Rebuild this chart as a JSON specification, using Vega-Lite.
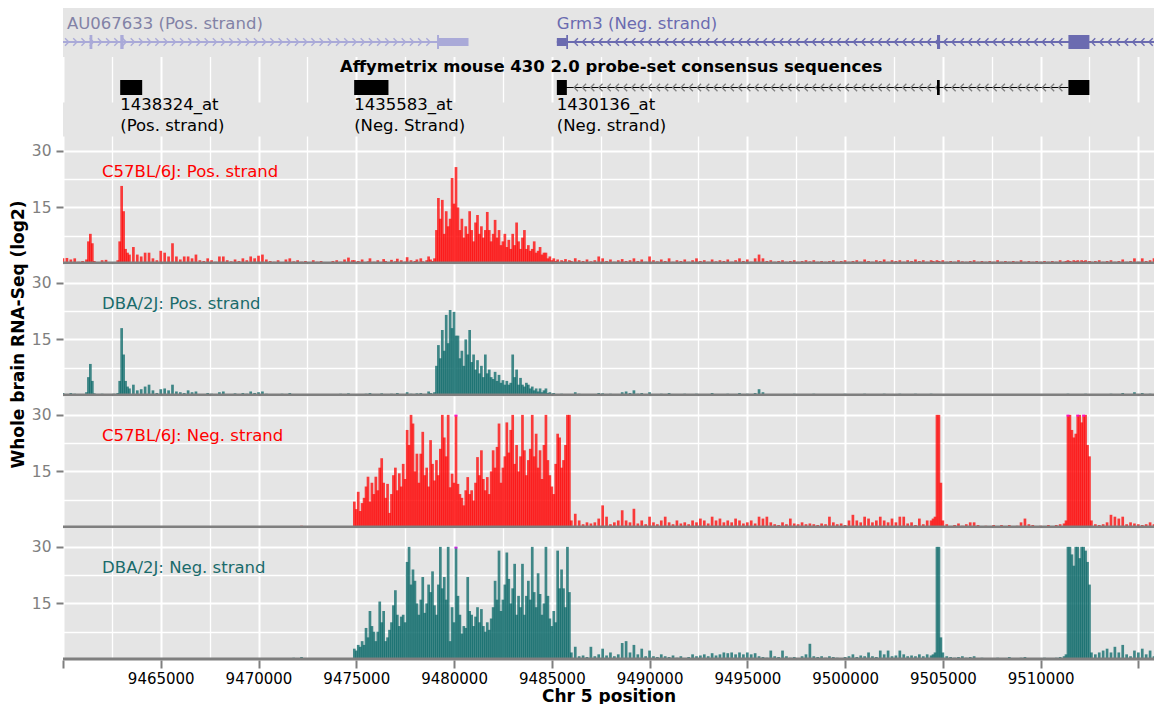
{
  "$schema": "https://vega.github.io/schema/vega-lite/v6.json",
  "padding": {"left": 9, "top": 8, "right": 0, "bottom": 0},
  "background": "white",
  "spacing": 0,
  "bounds": "flush",
  "resolve": {"scale": {"x": "independent", "y": "independent"}},
  "config": {
    "font": "DejaVu Sans",
    "view": {"fill": "#e5e5e5", "stroke": null},
    "axis": {"gridColor": "white", "labelFont": "DejaVu Sans", "titleFont": "DejaVu Sans"}
  },
  "datasets": {
    "cov": [
      {"x":9460000,"a":1.5,"b":0.8},{"x":9460200,"a":1.6,"b":0.5},{"x":9460400,"a":1.2,"b":0.8},{"x":9460600,"a":1.5,"b":0.6},
      {"x":9460800,"a":0.6},{"x":9461000,"a":0.8,"b":0.5},{"x":9461200,"a":1.2,"b":1},{"x":9461300,"a":6,"b":5},
      {"x":9461400,"a":8,"b":8.5},{"x":9461500,"a":5.5,"b":4},{"x":9461600,"a":0.8,"b":0.7},{"x":9461800,"a":0.5},
      {"x":9462000,"a":1,"b":0.6},{"x":9462200,"a":1.1,"b":0.5},{"x":9462400,"a":0.5},{"x":9462600,"b":0.6},
      {"x":9462800,"a":1,"b":0.8},{"x":9462900,"a":6,"b":4},{"x":9463000,"a":20.7,"b":18},{"x":9463100,"a":14,"b":11},
      {"x":9463200,"a":4,"b":4},{"x":9463300,"a":3,"b":2.5},{"x":9463400,"a":2.5,"b":2},{"x":9463600,"a":4.5,"b":3},
      {"x":9463800,"a":2.5,"b":1.5},{"x":9464000,"a":2,"b":1.8},{"x":9464200,"a":3,"b":2.5},{"x":9464400,"a":3,"b":3},
      {"x":9464600,"a":1.5,"b":1.5},{"x":9464800,"a":1,"b":0.8},{"x":9465000,"a":3.5,"b":1.8},{"x":9465200,"a":3,"b":2},
      {"x":9465400,"a":2,"b":1.5},{"x":9465600,"a":5.5,"b":3},{"x":9465800,"a":2,"b":1.2},{"x":9466000,"a":1.2,"b":1},
      {"x":9466200,"a":2,"b":0.8},{"x":9466400,"a":2,"b":1.5},{"x":9466600,"a":1.5,"b":1},{"x":9466800,"a":2.5,"b":1.2},
      {"x":9467000,"a":1,"b":0.5},{"x":9467200,"a":0.8},{"x":9467400,"a":1.5,"b":0.8},{"x":9467600,"a":1,"b":0.6},
      {"x":9467800,"a":0.6},{"x":9468000,"a":2,"b":1},{"x":9468200,"a":2,"b":1.2},{"x":9468400,"a":1,"c":0.4},
      {"x":9468600,"a":0.7,"b":0.5},{"x":9468800,"a":1.2,"b":0.7},{"x":9469000,"a":0.8},{"x":9469200,"a":1.5,"b":0.8},
      {"x":9469400,"a":1,"b":0.6},{"x":9469600,"a":2,"b":1.2},{"x":9469800,"a":1.5,"b":0.8},{"x":9470000,"a":2.2,"b":1,"c":0.5},
      {"x":9470200,"a":2.5,"b":1.2},{"x":9470400,"a":1.2,"b":0.6},{"x":9470600,"a":0.8},{"x":9470800,"a":0.6,"b":0.5},
      {"x":9471000,"a":1,"d":0.4},{"x":9471200,"b":0.6},{"x":9471400,"a":1.2,"b":0.5},{"x":9471600,"a":1.5,"b":0.8},
      {"x":9471800,"a":0.7,"d":0.6},{"x":9472000,"a":1,"b":0.5,"c":0.5},{"x":9472200,"a":0.6,"c":0.6,"d":0.8},{"x":9472400,"a":0.8},
      {"x":9472600,"b":0.4},{"x":9472800,"a":1},{"x":9473000,"a":0.6,"b":0.5},{"x":9473200,"a":0.8},
      {"x":9473400,"b":0.4},{"x":9473600,"a":0.5},{"x":9473800,"a":0.8,"b":0.5},{"x":9474000,"a":1},
      {"x":9474200,"a":0.6,"b":0.6},{"x":9474400,"a":1.2},{"x":9474600,"a":1.7,"b":0.7},{"x":9474800,"a":1,"c":0.5},
      {"x":9474900,"a":1,"c":7,"d":3},{"x":9475000,"c":5,"d":2.5},{"x":9475100,"a":0.8,"c":9.6,"d":4},{"x":9475200,"b":0.5,"c":4.5,"d":3.5},
      {"x":9475300,"a":1.2,"c":6.6,"d":5},{"x":9475400,"c":8,"d":4},{"x":9475500,"b":0.6,"c":11,"d":8.5},{"x":9475600,"a":0.7,"c":13.6,"d":6},
      {"x":9475700,"a":1.5,"b":0.8,"c":7,"d":13},{"x":9475800,"c":12,"d":9},{"x":9475900,"a":0.6,"c":9,"d":7.5},{"x":9476000,"b":0.5,"c":13.6,"d":5},
      {"x":9476100,"a":1,"c":10,"d":7.5},{"x":9476200,"c":16,"d":15.5},{"x":9476300,"b":0.7,"c":18.5,"d":10},{"x":9476400,"a":1.3,"c":12,"d":13},
      {"x":9476500,"a":0.8,"c":8,"d":5},{"x":9476600,"b":0.5,"c":11.7,"d":6},{"x":9476700,"c":4,"d":8},{"x":9476800,"a":1.1,"b":0.6,"c":9,"d":10},
      {"x":9476900,"c":14,"d":14.5},{"x":9477000,"a":0.7,"c":16,"d":18.5},{"x":9477100,"a":1.4,"b":0.8,"c":10,"d":12},{"x":9477200,"c":14.5,"d":9},
      {"x":9477300,"a":1,"c":11,"d":11.5},{"x":9477400,"b":0.5,"c":17,"d":12},{"x":9477500,"a":0.6,"c":13,"d":10},{"x":9477600,"a":1.8,"b":1,"c":26,"d":26},
      {"x":9477700,"c":22,"d":30},{"x":9477800,"a":1,"b":0.6,"c":30,"d":20},{"x":9477900,"c":27.7,"d":24},{"x":9478000,"a":0.8,"c":15,"d":21},
      {"x":9478100,"a":1.2,"b":0.7,"c":19.7,"d":15},{"x":9478200,"c":12,"d":12},{"x":9478300,"a":1.5,"b":0.8,"c":19.7,"d":16},{"x":9478400,"a":0.7,"c":25.5,"d":22},
      {"x":9478500,"b":0.5,"c":14,"d":12.5},{"x":9478600,"a":1,"c":16,"d":15},{"x":9478700,"a":2,"b":1.2,"c":11,"d":20},{"x":9478800,"a":1.2,"b":0.8,"c":23.3,"d":18},
      {"x":9478900,"a":0.8,"b":0.6,"c":17,"d":23.5},{"x":9479000,"a":1.5,"b":1,"c":12.6,"d":14.5},{"x":9479100,"a":9,"b":8,"c":18,"d":12},{"x":9479200,"a":17.5,"b":13.5,"c":14,"d":20},
      {"x":9479300,"a":12,"b":10,"c":21,"d":30},{"x":9479400,"a":17,"b":17.5,"c":30,"d":19},{"x":9479500,"a":8,"b":12,"c":24,"d":22},{"x":9479600,"a":14,"b":21.5,"c":19,"d":16},
      {"x":9479700,"a":10,"b":14,"c":30,"d":30},{"x":9479800,"a":12,"b":22.8,"c":10.8,"d":5},{"x":9479900,"a":22.8,"b":18,"c":14.4,"d":14},{"x":9480000,"a":16,"b":22.3,"c":12,"d":10},
      {"x":9480100,"a":25.7,"b":16,"c":30,"d":30,"sc":1,"sd":1},{"x":9480200,"a":15,"b":16,"c":11.7,"d":17},{"x":9480300,"a":9,"b":10,"c":9,"d":12},{"x":9480400,"a":12,"b":12,"c":8,"d":7},
      {"x":9480500,"a":7,"b":8,"c":6,"d":9},{"x":9480600,"a":10,"b":15,"c":10,"d":8.5},{"x":9480700,"a":8,"b":11,"c":13.5,"d":22},{"x":9480800,"a":14,"b":17.5,"c":9,"d":13},
      {"x":9480900,"a":9,"b":9,"c":10,"d":12},{"x":9481000,"a":6,"b":11,"c":7.3,"d":9},{"x":9481100,"a":11,"b":7,"c":12,"d":11.5},{"x":9481200,"a":13,"b":9.5,"c":18.8,"d":14},
      {"x":9481300,"a":8,"b":6,"c":14,"d":10},{"x":9481400,"a":10,"b":8,"c":20.6,"d":13.5},{"x":9481500,"a":7,"b":5,"c":13,"d":9},{"x":9481600,"a":9,"b":11,"c":10,"d":7.5},
      {"x":9481700,"a":13.8,"b":6,"c":13.5,"d":10},{"x":9481800,"a":9,"b":7,"c":9,"d":8},{"x":9481900,"a":6,"b":5,"c":15,"d":11},{"x":9482000,"a":8,"b":4.5,"c":20.6,"d":14},
      {"x":9482100,"a":11.7,"b":6.4,"c":16,"d":21},{"x":9482200,"a":7,"b":4,"c":21.5,"d":16},{"x":9482300,"a":9,"b":5.6,"c":27.7,"d":29},{"x":9482400,"a":5,"b":3.5,"c":12,"d":13},
      {"x":9482500,"a":6,"b":4.2,"c":16,"d":16},{"x":9482600,"a":8,"b":3,"c":19,"d":20},{"x":9482700,"a":4.5,"b":4,"c":28,"d":28.5},{"x":9482800,"a":6.4,"b":3,"c":20,"d":21.5},
      {"x":9482900,"a":4,"b":3.5,"c":26,"d":15},{"x":9483000,"a":8,"b":11,"c":30,"d":19},{"x":9483100,"a":5,"b":5,"c":17,"d":25.5},{"x":9483200,"a":11,"b":7,"c":22,"d":12},
      {"x":9483300,"a":6,"b":3,"c":15,"d":17},{"x":9483400,"a":4,"b":4.8,"c":19,"d":14},{"x":9483500,"a":7,"b":3,"c":30,"d":25.5},{"x":9483600,"a":9,"b":2.5,"c":20.6,"d":12},
      {"x":9483700,"a":4,"b":3.5,"c":14,"d":17},{"x":9483800,"a":5,"b":3,"c":18,"d":21},{"x":9483900,"a":3.5,"b":2,"c":21,"d":16},{"x":9484000,"a":4,"b":2.5,"c":30,"d":30},
      {"x":9484100,"a":6,"b":1.5,"c":19,"d":18},{"x":9484200,"a":3,"b":2,"c":25,"d":14},{"x":9484300,"a":3.5,"b":1.2,"c":16,"d":23},{"x":9484400,"a":4.5,"b":2,"c":20.6,"d":17.5},
      {"x":9484500,"a":2.5,"b":1,"c":13,"d":12},{"x":9484600,"a":3,"b":1.5,"c":22,"d":15},{"x":9484700,"a":3,"b":2,"c":30,"d":30},{"x":9484800,"a":1.5,"b":0.8,"c":18,"d":17},
      {"x":9484900,"a":2,"b":1,"c":14,"d":11},{"x":9485000,"a":1,"b":0.6,"c":11,"d":9},{"x":9485100,"a":1.5,"b":0.8,"c":9,"d":13},{"x":9485200,"a":0.8,"c":17,"d":10},
      {"x":9485300,"a":1.2,"b":0.5,"c":25,"d":29},{"x":9485400,"c":24,"d":19},{"x":9485500,"a":1,"b":0.6,"c":16,"d":24},{"x":9485600,"a":0.7,"c":18,"d":19},
      {"x":9485700,"a":1.3,"b":0.5,"c":22,"d":14},{"x":9485800,"c":30,"d":30},{"x":9485900,"a":1,"c":30,"d":18},{"x":9486000,"a":0.8,"b":0.5,"c":2,"d":2},
      {"x":9486200,"a":1.5,"b":1,"c":3.8,"d":3.5},{"x":9486400,"a":1,"b":0.6,"c":2,"d":1},{"x":9486600,"a":0.8,"c":1,"d":1.2},{"x":9486800,"a":1.2,"b":0.5,"c":1.5,"d":0.8},
      {"x":9487000,"a":0.7,"c":1.2,"d":3.5},{"x":9487200,"a":1,"b":0.5,"c":1.5,"d":1},{"x":9487400,"a":2,"b":0.8,"c":2.5,"d":1.5},{"x":9487600,"a":1.5,"b":0.7,"c":6,"d":3},
      {"x":9487800,"a":0.8,"c":3,"d":1.2},{"x":9488000,"a":1.2,"b":0.6,"c":1,"d":2},{"x":9488200,"a":0.6,"c":1.5,"d":1},{"x":9488400,"a":1,"b":0.5,"c":2,"d":1.5},
      {"x":9488600,"a":1.3,"b":1,"c":4.7,"d":4.5},{"x":9488800,"a":0.8,"b":1.2,"c":2,"d":5},{"x":9489000,"a":1,"b":0.8,"c":1.5,"d":2},{"x":9489200,"a":1.5,"b":1.5,"c":5.1,"d":4},
      {"x":9489400,"a":0.8,"b":0.6,"c":1.2,"d":1.5},{"x":9489600,"a":1.2,"b":0.8,"c":2,"d":3},{"x":9489800,"a":0.6,"c":1,"d":1},{"x":9490000,"a":2,"b":1,"c":3,"d":2.5},
      {"x":9490200,"a":1,"b":0.5,"c":1.5,"d":1},{"x":9490400,"a":0.7,"c":1,"d":0.8},{"x":9490600,"a":1.2,"b":0.6,"c":2,"d":1.5},{"x":9490800,"a":0.8,"c":3,"d":1},
      {"x":9491000,"a":1.5,"b":0.8,"c":1.5,"d":0.8},{"x":9491200,"a":0.6,"c":1,"d":1.2},{"x":9491400,"a":1,"b":0.5,"c":2,"d":0.6},{"x":9491600,"a":0.8,"c":1.2,"d":1},
      {"x":9491800,"a":1.2,"b":0.6,"c":1.5},{"x":9492000,"a":0.6,"c":1,"d":0.8},{"x":9492200,"a":1,"c":2,"d":1.5},{"x":9492400,"a":1.5,"b":0.6,"c":1.5,"d":1},
      {"x":9492600,"a":0.8,"c":2.5,"d":1.2},{"x":9492800,"a":1,"b":0.5,"c":2,"d":1.5},{"x":9493000,"a":0.6,"c":1.2,"d":1},{"x":9493200,"a":1.2,"b":0.8,"c":3,"d":1.8},
      {"x":9493400,"a":0.7,"c":2,"d":1.2},{"x":9493600,"a":1,"b":0.5,"c":2.5,"d":1.5},{"x":9493800,"a":0.8,"c":1.5,"d":2},{"x":9494000,"a":1.2,"b":0.6,"c":2,"d":1.8},
      {"x":9494200,"a":0.6,"c":1.5,"d":2},{"x":9494400,"a":1,"b":0.5,"c":2.5,"d":1.5},{"x":9494600,"a":1.5,"b":0.8,"c":2,"d":2},{"x":9494800,"a":0.8,"c":1.2,"d":1.5},
      {"x":9495000,"a":1.2,"b":0.6,"c":1.5,"d":2},{"x":9495200,"a":0.6,"c":2,"d":1.5},{"x":9495400,"a":1.5,"b":0.8,"c":1.2,"d":1.8},{"x":9495600,"a":2.5,"b":1.8,"c":3,"d":1},
      {"x":9495800,"a":1.5,"b":1,"c":2.5,"d":0.8},{"x":9496000,"a":0.8,"c":3,"d":0.6},{"x":9496200,"a":1,"b":0.5,"c":1.5,"d":2.5},{"x":9496400,"a":0.6,"c":1,"d":1},
      {"x":9496600,"a":0.8,"c":0.8,"d":0.8},{"x":9496800,"a":1,"b":0.5,"c":1.5,"d":2.5},{"x":9497000,"a":0.6,"c":1,"d":1},{"x":9497200,"a":0.8,"c":2.5,"d":0.6},
      {"x":9497400,"a":1,"b":0.6,"c":1.2,"d":0.8},{"x":9497600,"a":0.6,"c":1,"d":0.5},{"x":9497800,"a":0.8,"c":1.5,"d":1},{"x":9498000,"a":1,"b":0.5,"c":1,"d":1.5},
      {"x":9498200,"a":0.7,"c":1.2,"d":4.3},{"x":9498400,"a":1,"b":0.6,"c":1,"d":1},{"x":9498600,"a":0.6,"c":0.8,"d":0.8},{"x":9498800,"a":0.8,"c":1.2,"d":1},
      {"x":9499000,"a":0.6,"b":0.5,"c":1,"d":0.6},{"x":9499200,"a":0.8,"c":3,"d":1},{"x":9499400,"a":1,"b":0.5,"c":1.5,"d":0.8},{"x":9499600,"a":0.6,"c":1,"d":0.6},
      {"x":9499800,"a":0.8,"c":1.2,"d":0.5},{"x":9500000,"a":1,"b":0.6,"c":0.8,"d":0.8},{"x":9500200,"a":0.6,"c":2,"d":1},{"x":9500400,"a":0.8,"c":3.5,"d":1.5},
      {"x":9500600,"a":1,"b":0.5,"c":2,"d":0.8},{"x":9500800,"a":0.6,"c":1.5,"d":1.2},{"x":9501000,"a":1.2,"b":0.6,"c":3,"d":1},{"x":9501200,"a":0.8,"c":2.5,"d":2},
      {"x":9501400,"a":0.6,"c":1.5,"d":1},{"x":9501600,"a":1,"b":0.5,"c":2,"d":0.8},{"x":9501800,"a":0.8,"c":3,"d":2.5},{"x":9502000,"a":1.2,"b":0.6,"c":2,"d":1.5},
      {"x":9502200,"a":0.6,"c":1.5,"d":2.5},{"x":9502400,"a":1,"b":0.5,"c":2.5,"d":1},{"x":9502600,"a":0.8,"c":1.5,"d":1.2},{"x":9502800,"a":1,"b":0.6,"c":3,"d":2.5},
      {"x":9503000,"a":0.6,"c":3,"d":1.5},{"x":9503200,"a":1,"b":0.5,"c":1.2,"d":1},{"x":9503400,"a":0.8,"c":1.5,"d":1.2},{"x":9503600,"a":1.2,"b":0.6,"c":0.8,"d":1},
      {"x":9503800,"a":0.8,"c":2.5,"d":1.5},{"x":9504000,"a":1,"b":0.5,"c":1,"d":1},{"x":9504200,"a":0.6,"c":2,"d":1.5},{"x":9504400,"a":1,"b":0.6,"c":2,"d":1.2},
      {"x":9504500,"a":0.8,"c":2.5,"d":1.5},{"x":9504600,"a":0.6,"c":3,"d":2},{"x":9504700,"a":1,"b":0.5,"c":30,"d":30},{"x":9504800,"a":0.8,"c":30,"d":30},
      {"x":9504900,"a":0.6,"c":12,"d":6},{"x":9505000,"a":1,"b":0.5,"c":2,"d":2},{"x":9505200,"a":0.6,"c":1,"d":1},{"x":9505400,"a":0.8,"b":0.5,"c":0.5,"d":0.8},
      {"x":9505600,"a":0.6,"c":0.8,"d":0.6},{"x":9505800,"a":1,"c":1.2,"d":0.8},{"x":9506000,"a":0.7,"b":0.5,"c":0.6,"d":1},{"x":9506200,"a":0.6,"c":1,"d":0.6},
      {"x":9506400,"a":0.8,"c":1.5,"d":0.8},{"x":9506600,"a":1,"b":0.5,"c":1.5,"d":1},{"x":9506800,"a":0.6,"c":0.8,"d":0.5},{"x":9507000,"a":0.8,"c":0.5,"d":0.6},
      {"x":9507200,"a":0.6,"b":0.4,"c":0.6},{"x":9507400,"a":0.8,"c":0.5,"d":0.5},{"x":9507600,"a":0.6,"c":0.8},{"x":9507800,"a":1,"b":0.5,"c":0.5,"d":0.6},
      {"x":9508000,"a":0.6,"c":0.8,"d":0.5},{"x":9508200,"a":0.8,"c":0.5},{"x":9508400,"a":0.6,"b":0.5,"c":0.8,"d":0.8},{"x":9508600,"a":0.8,"c":0.5},
      {"x":9508800,"a":0.6,"c":0.6,"d":0.5},{"x":9509000,"a":1,"b":0.5,"c":1.5,"d":0.6},{"x":9509200,"a":0.6,"c":2.5,"d":0.8},{"x":9509400,"a":0.8,"c":1,"d":0.5},
      {"x":9509600,"a":0.6,"b":0.4,"c":0.8},{"x":9509800,"a":0.8,"c":0.5,"d":0.5},{"x":9510000,"a":0.6,"c":0.6},{"x":9510200,"a":0.8,"b":0.5,"c":0.5,"d":0.6},
      {"x":9510400,"a":0.6,"c":0.8},{"x":9510600,"a":0.8,"c":0.5,"d":0.5},{"x":9510800,"a":0.6,"b":0.5,"c":0.8,"d":0.6},{"x":9511000,"a":1,"c":1,"d":0.8},
      {"x":9511200,"a":0.6,"c":1.2,"d":1},{"x":9511300,"a":0.8,"c":2,"d":1.5},{"x":9511400,"a":1,"b":0.6,"c":30,"d":30,"sc":1},{"x":9511500,"a":0.8,"c":30,"d":30},
      {"x":9511600,"a":0.6,"c":26,"d":28},{"x":9511700,"a":1,"b":0.5,"c":24,"d":25},{"x":9511800,"a":0.8,"c":25,"d":30},{"x":9511900,"a":1,"c":30,"d":30,"sc":1},
      {"x":9512000,"a":0.6,"b":0.5,"c":30,"d":27},{"x":9512100,"a":1,"c":28,"d":30},{"x":9512200,"a":0.8,"c":30,"d":30,"sc":1},{"x":9512300,"a":1,"b":0.6,"c":30,"d":29},
      {"x":9512400,"a":0.6,"c":22,"d":26},{"x":9512500,"a":0.8,"c":19,"d":20},{"x":9512600,"a":0.6,"c":2,"d":2},{"x":9512800,"a":0.8,"b":0.5,"c":1,"d":1.5},
      {"x":9513000,"a":1,"c":0.8,"d":2},{"x":9513200,"a":0.6,"b":0.5,"c":1,"d":2.5},{"x":9513400,"a":0.8,"c":1.5,"d":3},{"x":9513600,"a":1,"b":0.6,"c":3.5,"d":2},
      {"x":9513800,"a":0.6,"c":3,"d":3.5},{"x":9514000,"a":0.8,"c":2.5,"d":2},{"x":9514200,"a":1.2,"b":0.8,"c":3,"d":4},{"x":9514400,"a":0.6,"c":1,"d":1.5},
      {"x":9514600,"a":0.8,"b":0.5,"c":1.5,"d":1},{"x":9514800,"a":1.5,"b":1,"c":1.2,"d":2.5},{"x":9515000,"a":0.6,"c":1,"d":2},{"x":9515200,"a":1.5,"b":0.8,"c":0.8,"d":3},
      {"x":9515400,"a":0.8,"c":1,"d":1.5},{"x":9515600,"a":1,"b":0.6,"c":1.5,"d":2.5},{"x":9515800,"a":1.5,"c":1,"d":1}
    ],
    "feat": [
      {"src":"AU067633","lane":"gene","k":"line","s":9460000,"e":9479200},
      {"src":"Grm3","lane":"gene","k":"line","s":9485258,"e":9515800},
      {"src":"probe","lane":"probe","k":"pline","s":9485700,"e":9511422},
      {"src":"AU067633","lane":"gene","k":"cds","s":9461360,"e":9461500},
      {"src":"AU067633","lane":"gene","k":"cds","s":9462930,"e":9463100},
      {"src":"AU067633","lane":"gene","k":"utr","s":9479200,"e":9480740},
      {"src":"AU067633","lane":"gene","k":"cds","s":9479130,"e":9479230},
      {"src":"Grm3","lane":"gene","k":"utr","s":9485258,"e":9485770},
      {"src":"Grm3","lane":"gene","k":"cds","s":9485740,"e":9485830},
      {"src":"Grm3","lane":"gene","k":"cds","s":9504700,"e":9504860},
      {"src":"Grm3","lane":"gene","k":"cds","s":9511422,"e":9512496},
      {"src":"probe","lane":"probe","k":"probe","s":9462925,"e":9464050},
      {"src":"probe","lane":"probe","k":"probe","s":9474892,"e":9476646},
      {"src":"probe","lane":"probe","k":"probe","s":9485258,"e":9485770},
      {"src":"probe","lane":"probe","k":"probe","s":9504700,"e":9504840},
      {"src":"probe","lane":"probe","k":"probe","s":9511422,"e":9512496}
    ],
    "chev": [
      {"p":9460200},{"p":9460620},{"p":9461040},{"p":9461460},{"p":9461880},{"p":9462300},{"p":9462720},{"p":9463140},{"p":9463560},{"p":9463980},
      {"p":9464400},{"p":9464820},{"p":9465240},{"p":9465660},{"p":9466080},{"p":9466500},{"p":9466920},{"p":9467340},{"p":9467760},{"p":9468180},
      {"p":9468600},{"p":9469020},{"p":9469440},{"p":9469860},{"p":9470280},{"p":9470700},{"p":9471120},{"p":9471540},{"p":9471960},{"p":9472380},
      {"p":9472800},{"p":9473220},{"p":9473640},{"p":9474060},{"p":9474480},{"p":9474900},{"p":9475320},{"p":9475740},{"p":9476160},{"p":9476580},
      {"p":9477000},{"p":9477420},{"p":9477840},{"p":9478260},{"p":9478680},
      {"p":9486240},{"p":9486660},{"p":9487080},{"p":9487500},{"p":9487920},{"p":9488340},{"p":9488760},{"p":9489180},{"p":9489600},{"p":9490020},
      {"p":9490440},{"p":9490860},{"p":9491280},{"p":9491700},{"p":9492120},{"p":9492540},{"p":9492960},{"p":9493380},{"p":9493800},{"p":9494220},
      {"p":9494640},{"p":9495060},{"p":9495480},{"p":9495900},{"p":9496320},{"p":9496740},{"p":9497160},{"p":9497580},{"p":9498000},{"p":9498420},
      {"p":9498840},{"p":9499260},{"p":9499680},{"p":9500100},{"p":9500520},{"p":9500940},{"p":9501360},{"p":9501780},{"p":9502200},{"p":9502620},
      {"p":9503040},{"p":9503460},{"p":9503880},{"p":9504300},{"p":9504720},{"p":9505140},{"p":9505560},{"p":9505980},{"p":9506400},{"p":9506820},
      {"p":9507240},{"p":9507660},{"p":9508080},{"p":9508500},{"p":9508920},{"p":9509340},{"p":9509760},{"p":9510180},{"p":9510600},{"p":9511020},
      {"p":9512700},{"p":9513120},{"p":9513540},{"p":9513960},{"p":9514380},{"p":9514800},{"p":9515220},{"p":9515640}
    ]
  },
  "vconcat": [
    {
      "width": 1091,
      "height": 128,
      "data": {"name": "feat"},
      "layer": [
        {
          "transform": [{"filter": "datum.k === 'line'"}],
          "mark": {"type": "rule", "strokeCap": "butt", "strokeWidth": 2, "clip": true},
          "encoding": {
            "x": {"field": "s", "type": "quantitative", "scale": {"domain": [9460000, 9515800], "nice": false, "zero": false, "padding": 0},
                  "axis": {"values": [9460000,9462500,9465000,9467500,9470000,9472500,9475000,9477500,9480000,9482500,9485000,9487500,9490000,9492500,9495000,9497500,9500000,9502500,9505000,9507500,9510000,9512500,9515000],
                           "labels": false, "ticks": false, "domain": false, "title": null,
                           "gridWidth": {"condition": {"test": "datum.value % 5000 === 0", "value": 2}, "value": 1.3}}},
            "x2": {"field": "e"},
            "y": {"field": "lane", "type": "nominal", "scale": {"type": "point", "domain": ["gene", "probe"], "range": [34, 79.5], "padding": 0}, "axis": null},
            "color": {"field": "src", "type": "nominal", "scale": {"domain": ["AU067633", "Grm3", "probe"], "range": ["#aaaad8", "#6b6bb0", "#000000"]}, "legend": null}
          }
        },
        {
          "transform": [{"filter": "datum.k === 'pline'"}],
          "mark": {"type": "rule", "strokeCap": "butt", "strokeWidth": 1.2, "clip": true},
          "encoding": {"x": {"field": "s", "type": "quantitative"}, "x2": {"field": "e"}, "y": {"field": "lane", "type": "nominal"}, "color": {"field": "src", "type": "nominal"}}
        },
        {
          "data": {"name": "chev"},
          "transform": [{"filter": "datum.p < 9479000"}],
          "mark": {"type": "point", "shape": "M-0.5,-1L0.5,0L-0.5,1", "filled": false, "size": 56, "strokeWidth": 1.4, "color": "#aaaad8", "opacity": 1, "clip": true},
          "encoding": {"x": {"field": "p", "type": "quantitative"}, "y": {"datum": "gene"}}
        },
        {
          "data": {"name": "chev"},
          "transform": [{"filter": "datum.p > 9485800"}],
          "mark": {"type": "point", "shape": "M0.5,-1L-0.5,0L0.5,1", "filled": false, "size": 56, "strokeWidth": 1.4, "color": "#6b6bb0", "opacity": 1, "clip": true},
          "encoding": {"x": {"field": "p", "type": "quantitative"}, "y": {"datum": "gene"}}
        },
        {
          "data": {"name": "chev"},
          "transform": [{"filter": "datum.p > 9485800 && datum.p < 9511400"}],
          "mark": {"type": "point", "shape": "M0.5,-1L-0.5,0L0.5,1", "filled": false, "size": 56, "strokeWidth": 1.3, "color": "#808080", "opacity": 1, "clip": true},
          "encoding": {"x": {"field": "p", "type": "quantitative"}, "y": {"datum": "probe"}}
        },
        {
          "transform": [{"filter": "datum.k === 'utr'"}],
          "mark": {"type": "rule", "strokeCap": "butt", "strokeWidth": 8, "clip": true},
          "encoding": {"x": {"field": "s", "type": "quantitative"}, "x2": {"field": "e"}, "y": {"field": "lane", "type": "nominal"}, "color": {"field": "src", "type": "nominal"}}
        },
        {
          "transform": [{"filter": "datum.k === 'cds'"}],
          "mark": {"type": "rule", "strokeCap": "butt", "strokeWidth": 14, "clip": true},
          "encoding": {"x": {"field": "s", "type": "quantitative"}, "x2": {"field": "e"}, "y": {"field": "lane", "type": "nominal"}, "color": {"field": "src", "type": "nominal"}}
        },
        {
          "transform": [{"filter": "datum.k === 'probe'"}],
          "mark": {"type": "rule", "strokeCap": "butt", "strokeWidth": 15, "clip": true},
          "encoding": {"x": {"field": "s", "type": "quantitative"}, "x2": {"field": "e"}, "y": {"field": "lane", "type": "nominal"}, "color": {"field": "src", "type": "nominal"}}
        },
        {
          "data": {"values": [{"t": "AU067633 (Pos. strand)", "p": 9460200}]},
          "mark": {"type": "text", "align": "left", "baseline": "alphabetic", "dy": -13, "fontSize": 16.5, "color": "#8282a6"},
          "encoding": {"x": {"field": "p", "type": "quantitative"}, "y": {"datum": "gene"}, "text": {"field": "t"}}
        },
        {
          "data": {"values": [{"t": "Grm3 (Neg. strand)", "p": 9485258}]},
          "mark": {"type": "text", "align": "left", "baseline": "alphabetic", "dy": -13, "fontSize": 16.5, "color": "#6b6bb0"},
          "encoding": {"x": {"field": "p", "type": "quantitative"}, "y": {"datum": "gene"}, "text": {"field": "t"}}
        },
        {
          "data": {"values": [{"t": "Affymetrix mouse 430 2.0 probe-set consensus sequences", "p": 9488035}]},
          "mark": {"type": "text", "align": "center", "baseline": "alphabetic", "dy": -15.5, "fontSize": 16.5, "fontWeight": "bold", "color": "#000000"},
          "encoding": {"x": {"field": "p", "type": "quantitative"}, "y": {"datum": "probe"}, "text": {"field": "t"}}
        },
        {
          "data": {"values": [
            {"t": "1438324_at\n(Pos. strand)", "p": 9462925},
            {"t": "1435583_at\n(Neg. Strand)", "p": 9474892},
            {"t": "1430136_at\n(Neg. strand)", "p": 9485258}
          ]},
          "mark": {"type": "text", "align": "left", "baseline": "top", "dy": 9.5, "lineBreak": "\n", "lineHeight": 21, "fontSize": 16.5, "color": "#000000"},
          "encoding": {"x": {"field": "p", "type": "quantitative"}, "y": {"datum": "probe"}, "text": {"field": "t"}}
        }
      ]
    },
    {
      "width": 1091,
      "height": 128,
      "layer": [
        {
          "data": {"name": "cov"},
          "mark": {"type": "bar", "size": 2.7, "opacity": 0.75, "color": "#ff0000", "clip": true},
          "encoding": {
            "x": {"field": "x", "type": "quantitative", "scale": {"domain": [9460000, 9515800], "nice": false, "zero": false, "padding": 0},
                  "axis": {"values": [9460000,9462500,9465000,9467500,9470000,9472500,9475000,9477500,9480000,9482500,9485000,9487500,9490000,9492500,9495000,9497500,9500000,9502500,9505000,9507500,9510000,9512500,9515000],
                           "labels": false, "ticks": false, "domain": false, "title": null,
                           "gridWidth": {"condition": {"test": "datum.value % 5000 === 0", "value": 2}, "value": 1.3}}},
            "y": {"field": "a", "type": "quantitative", "scale": {"domain": [0, 33.94], "nice": false},
                  "axis": {"values": [7.5, 15, 22.5, 30], "labelExpr": "datum.value % 15 === 0 ? datum.label : ''", "title": null, "domain": false,
                           "tickColor": "#7f7f7f", "tickSize": 7, "tickWidth": 2, "tickOpacity": {"condition": {"test": "datum.value % 15 === 0", "value": 1}, "value": 0},
                           "labelColor": "#7f7f7f", "labelFontSize": 15.5, "labelPadding": 5,
                           "gridWidth": {"condition": {"test": "datum.value % 15 === 0", "value": 2}, "value": 1.3}}}
          }
        },
        {
          "data": {"values": [{}]},
          "mark": {"type": "rule", "color": "#7f7f7f", "strokeWidth": 3, "yOffset": -1},
          "encoding": {"y": {"datum": 0}}
        },
        {
          "data": {"values": [{"t": "C57BL/6J: Pos. strand"}]},
          "mark": {"type": "text", "align": "left", "baseline": "alphabetic", "fontSize": 16.5, "color": "#ff0000"},
          "encoding": {"x": {"datum": 9462000}, "y": {"datum": 23}, "text": {"field": "t"}}
        }
      ]
    },
    {
      "width": 1091,
      "height": 132,
      "layer": [
        {
          "data": {"name": "cov"},
          "mark": {"type": "bar", "size": 2.7, "opacity": 0.75, "color": "#066666", "clip": true},
          "encoding": {
            "x": {"field": "x", "type": "quantitative", "scale": {"domain": [9460000, 9515800], "nice": false, "zero": false, "padding": 0},
                  "axis": {"values": [9460000,9462500,9465000,9467500,9470000,9472500,9475000,9477500,9480000,9482500,9485000,9487500,9490000,9492500,9495000,9497500,9500000,9502500,9505000,9507500,9510000,9512500,9515000],
                           "labels": false, "ticks": false, "domain": false, "title": null,
                           "gridWidth": {"condition": {"test": "datum.value % 5000 === 0", "value": 2}, "value": 1.3}}},
            "y": {"field": "b", "type": "quantitative", "scale": {"domain": [0, 35], "nice": false},
                  "axis": {"values": [7.5, 15, 22.5, 30], "labelExpr": "datum.value % 15 === 0 ? datum.label : ''", "domain": false,
                           "title": "Whole brain RNA-Seq (log2)", "titleY": 70, "titleFontSize": 17, "titleFontWeight": "bold", "titleColor": "#000000", "titlePadding": 4,
                           "tickColor": "#7f7f7f", "tickSize": 7, "tickWidth": 2, "tickOpacity": {"condition": {"test": "datum.value % 15 === 0", "value": 1}, "value": 0},
                           "labelColor": "#7f7f7f", "labelFontSize": 15.5, "labelPadding": 5,
                           "gridWidth": {"condition": {"test": "datum.value % 15 === 0", "value": 2}, "value": 1.3}}}
          }
        },
        {
          "data": {"values": [{}]},
          "mark": {"type": "rule", "color": "#7f7f7f", "strokeWidth": 3, "yOffset": -1},
          "encoding": {"y": {"datum": 0}}
        },
        {
          "data": {"values": [{"t": "DBA/2J: Pos. strand"}]},
          "mark": {"type": "text", "align": "left", "baseline": "alphabetic", "fontSize": 16.5, "color": "#1a6b6b"},
          "encoding": {"x": {"datum": 9462000}, "y": {"datum": 23}, "text": {"field": "t"}}
        }
      ]
    },
    {
      "width": 1091,
      "height": 132,
      "layer": [
        {
          "data": {"name": "cov"},
          "mark": {"type": "bar", "size": 2.7, "opacity": 0.75, "color": "#ff0000", "clip": true},
          "encoding": {
            "x": {"field": "x", "type": "quantitative", "scale": {"domain": [9460000, 9515800], "nice": false, "zero": false, "padding": 0},
                  "axis": {"values": [9460000,9462500,9465000,9467500,9470000,9472500,9475000,9477500,9480000,9482500,9485000,9487500,9490000,9492500,9495000,9497500,9500000,9502500,9505000,9507500,9510000,9512500,9515000],
                           "labels": false, "ticks": false, "domain": false, "title": null,
                           "gridWidth": {"condition": {"test": "datum.value % 5000 === 0", "value": 2}, "value": 1.3}}},
            "y": {"field": "c", "type": "quantitative", "scale": {"domain": [0, 35], "nice": false},
                  "axis": {"values": [7.5, 15, 22.5, 30], "labelExpr": "datum.value % 15 === 0 ? datum.label : ''", "title": null, "domain": false,
                           "tickColor": "#7f7f7f", "tickSize": 7, "tickWidth": 2, "tickOpacity": {"condition": {"test": "datum.value % 15 === 0", "value": 1}, "value": 0},
                           "labelColor": "#7f7f7f", "labelFontSize": 15.5, "labelPadding": 5,
                           "gridWidth": {"condition": {"test": "datum.value % 15 === 0", "value": 2}, "value": 1.3}}}
          }
        },
        {
          "data": {"name": "cov"},
          "transform": [{"filter": "datum.sc === 1"}],
          "mark": {"type": "tick", "orient": "horizontal", "color": "#ff00ff", "size": 3, "thickness": 2},
          "encoding": {"x": {"field": "x", "type": "quantitative"}, "y": {"datum": 29.8}}
        },
        {
          "data": {"values": [{}]},
          "mark": {"type": "rule", "color": "#7f7f7f", "strokeWidth": 3, "yOffset": -1},
          "encoding": {"y": {"datum": 0}}
        },
        {
          "data": {"values": [{"t": "C57BL/6J: Neg. strand"}]},
          "mark": {"type": "text", "align": "left", "baseline": "alphabetic", "fontSize": 16.5, "color": "#ff0000"},
          "encoding": {"x": {"datum": 9462000}, "y": {"datum": 23}, "text": {"field": "t"}}
        }
      ]
    },
    {
      "width": 1091,
      "height": 132,
      "layer": [
        {
          "data": {"name": "cov"},
          "mark": {"type": "bar", "size": 2.7, "opacity": 0.75, "color": "#066666", "clip": true},
          "encoding": {
            "x": {"field": "x", "type": "quantitative", "scale": {"domain": [9460000, 9515800], "nice": false, "zero": false, "padding": 0},
                  "axis": {"values": [9460000,9462500,9465000,9467500,9470000,9472500,9475000,9477500,9480000,9482500,9485000,9487500,9490000,9492500,9495000,9497500,9500000,9502500,9505000,9507500,9510000,9512500,9515000],
                           "format": "d",
                           "labelExpr": "datum.value % 5000 === 0 && datum.value > 9460000 && datum.value < 9515000 ? datum.label : ''",
                           "tickOpacity": {"condition": {"test": "datum.value % 5000 === 0", "value": 1}, "value": 0},
                           "tickColor": "#7f7f7f", "tickSize": 8, "tickWidth": 2, "domain": false,
                           "labelColor": "#000000", "labelFontSize": 15, "labelPadding": 3, "labelFlush": false,
                           "title": "Chr 5 position", "titleFontSize": 17, "titleFontWeight": "bold", "titleColor": "#000000", "titlePadding": 2,
                           "gridWidth": {"condition": {"test": "datum.value % 5000 === 0", "value": 2}, "value": 1.3}}},
            "y": {"field": "d", "type": "quantitative", "scale": {"domain": [0, 35], "nice": false},
                  "axis": {"values": [7.5, 15, 22.5, 30], "labelExpr": "datum.value % 15 === 0 ? datum.label : ''", "title": null, "domain": false,
                           "tickColor": "#7f7f7f", "tickSize": 7, "tickWidth": 2, "tickOpacity": {"condition": {"test": "datum.value % 15 === 0", "value": 1}, "value": 0},
                           "labelColor": "#7f7f7f", "labelFontSize": 15.5, "labelPadding": 5,
                           "gridWidth": {"condition": {"test": "datum.value % 15 === 0", "value": 2}, "value": 1.3}}}
          }
        },
        {
          "data": {"name": "cov"},
          "transform": [{"filter": "datum.sd === 1"}],
          "mark": {"type": "tick", "orient": "horizontal", "color": "#ff00ff", "size": 3, "thickness": 2},
          "encoding": {"x": {"field": "x", "type": "quantitative"}, "y": {"datum": 29.8}}
        },
        {
          "data": {"values": [{}]},
          "mark": {"type": "rule", "color": "#7f7f7f", "strokeWidth": 3, "yOffset": -1},
          "encoding": {"y": {"datum": 0}}
        },
        {
          "data": {"values": [{"t": "DBA/2J: Neg. strand"}]},
          "mark": {"type": "text", "align": "left", "baseline": "alphabetic", "fontSize": 16.5, "color": "#1a6b6b"},
          "encoding": {"x": {"datum": 9462000}, "y": {"datum": 23}, "text": {"field": "t"}}
        }
      ]
    }
  ]
}
